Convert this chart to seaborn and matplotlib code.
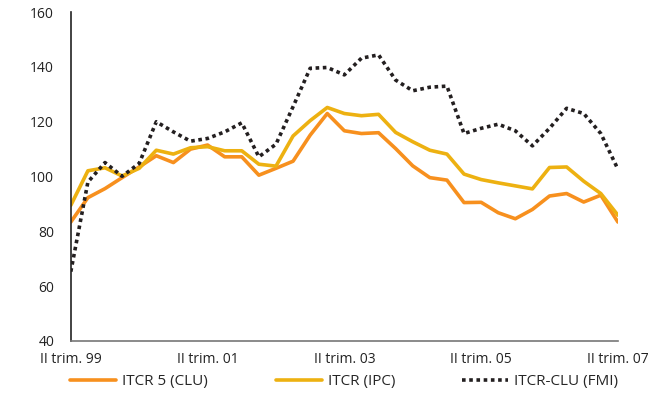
import matplotlib
matplotlib.use("Agg")
import matplotlib.pyplot as plt
import seaborn as sns
import pandas as pd

# quarterly data, II trim. 1999 .. II trim. 2007
itcr5_clu = [83.4, 92.3, 95.6, 99.6, 103.5, 107.6, 105.1, 110.0, 111.5, 107.2, 107.2,
             100.5, 103.0, 105.6, 115.1, 123.0, 116.7, 115.7, 116.0, 110.2, 103.9,
             99.6, 98.7, 90.5, 90.6, 86.8, 84.6, 88.0, 92.9, 93.8, 90.7, 93.2, 83.4]
itcr_ipc = [89.5, 102.1, 103.2, 100.2, 103.0, 109.6, 108.2, 110.5, 110.9, 109.4, 109.4,
            104.5, 103.8, 114.8, 120.4, 125.2, 123.0, 122.2, 122.7, 116.1, 112.7,
            109.6, 108.2, 100.9, 98.9, 97.7, 96.6, 95.5, 103.3, 103.5, 98.3, 93.8, 85.9]
itcr_clu_fmi = [65.3, 98.0, 105.1, 100.1, 104.8, 120.0, 116.3, 112.9, 113.9, 116.3, 119.6,
                107.2, 111.8, 125.5, 139.5, 139.8, 137.1, 143.2, 144.4, 135.2, 131.3,
                132.6, 133.0, 115.7, 117.6, 119.1, 116.7, 111.2, 117.6, 124.9, 123.0, 115.7, 102.7]
tick_labels = ["II trim. 99", "II trim. 01", "II trim. 03", "II trim. 05", "II trim. 07"]
series_names = ["ITCR 5 (CLU)", "ITCR (IPC)", "ITCR-CLU (FMI)"]

df = pd.DataFrame({
    "q": list(range(len(itcr5_clu))),
    series_names[0]: itcr5_clu,
    series_names[1]: itcr_ipc,
    series_names[2]: itcr_clu_fmi,
})
long = df.melt(id_vars="q", var_name="serie", value_name="valor")

sns.set_style("white")
plt.rcParams["font.family"] = ["Open Sans", "DejaVu Sans"]
plt.rcParams["font.size"] = 10

fig, ax = plt.subplots(figsize=(6.68, 4.04), dpi=100)
fig.subplots_adjust(left=0.106, right=0.925, top=0.97, bottom=0.156)

palette = {series_names[0]: "#F7901E", series_names[1]: "#EDB111", series_names[2]: "#231F20"}
sns.lineplot(data=long, x="q", y="valor", hue="serie", style="serie",
             palette=palette, dashes={series_names[0]: "", series_names[1]: "",
                                      series_names[2]: (1, 1)},
             linewidth=2.6, ax=ax, legend=False)

ax.set_xlim(0, 32)
ax.set_ylim(40, 160)
ax.set_yticks(range(40, 161, 20))
ax.set_xticks(range(0, 33, 4))
ax.set_xticklabels([tick_labels[i // 2] if i % 2 == 0 else "" for i in range(9)])
ax.tick_params(axis="both", direction="in", length=4, width=1, colors="#333333",
               labelcolor="#222222", labelsize=10)
ax.tick_params(axis="y", pad=12)
ax.tick_params(axis="x", pad=8, colors="#777777", labelcolor="#222222")
ax.set_xlabel("")
ax.set_ylabel("")
for s in ["top", "right"]:
    ax.spines[s].set_visible(False)
ax.spines["left"].set_color("#222222")
ax.spines["bottom"].set_color("#777777")
ax.spines["left"].set_linewidth(1.2)
ax.spines["bottom"].set_linewidth(1.2)

# one legend entry per box, spread under the axis like the original
legend_x = [70, 276, 462]
for i, n in enumerate(series_names):
    h = plt.Line2D([], [], color=palette[n], lw=2.6,
                   linestyle=(0, (1, 1)) if i == 2 else "-")
    leg = fig.legend([h], [n], loc="center left",
                     bbox_to_anchor=(legend_x[i] / 668, 1 - 382 / 404),
                     frameon=False, handlelength=3.0, handletextpad=0.4,
                     borderpad=0, borderaxespad=0, fontsize=11)

fig.savefig("out.png", dpi=100)
